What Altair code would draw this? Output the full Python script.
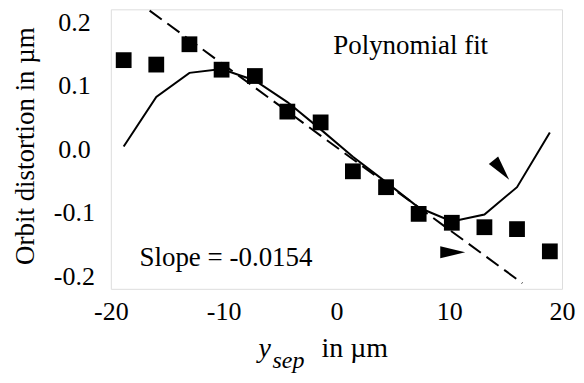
import altair as alt
import pandas as pd

# data
sep_x = [-18.86, -15.97, -13.03, -10.18, -7.23, -4.35, -1.40, 1.46, 4.40, 7.29, 10.23, 13.12, 16.01, 18.92]
measured = [0.140, 0.133, 0.165, 0.125, 0.115, 0.059, 0.042, -0.035, -0.060, -0.102, -0.116, -0.123, -0.126, -0.161]
poly_fit = [0.004, 0.082, 0.120, 0.126, 0.108, 0.074, 0.031, -0.012, -0.052, -0.092, -0.114, -0.103, -0.060, 0.026]
lin_x = [-16.56, 16.48]
lin_y = [0.218, -0.211]
x_ticks = [-20, -10, 0, 10, 20]
y_ticks = [-0.2, -0.1, 0.0, 0.1, 0.2]

FONT = "Liberation Serif"

pts = pd.DataFrame({"x": sep_x, "y": measured})
poly = pd.DataFrame({"x": sep_x, "y": poly_fit})
lin = pd.DataFrame({"x": lin_x, "y": lin_y})

xs = alt.Scale(domain=[-20, 20], nice=False, zero=False)
ys = alt.Scale(domain=[-0.22, 0.22], nice=False, zero=False)

xaxis = alt.Axis(values=x_ticks, domain=False, ticks=False, tickSize=0, grid=False,
                 labelFont=FONT, labelFontSize=26, labelColor="black", labelFlush=False,
                 labelOverlap=False, labelPadding=10, title=None,
                 labelExpr="replace(datum.label, '\u2212', '-')")
yaxis = alt.Axis(values=y_ticks, domain=False, ticks=False, tickSize=0, grid=False,
                 labelFont=FONT, labelFontSize=26, labelColor="black", labelFlush=False,
                 labelOverlap=False, labelPadding=37, labelAlign="center", labelBaseline="middle",
                 format=".1f", title=None,
                 labelExpr="replace(datum.label, '\u2212', '-')")

X = alt.X("x:Q", scale=xs, axis=xaxis)
Y = alt.Y("y:Q", scale=ys, axis=yaxis)

dashed = alt.Chart(lin).mark_line(color="black", strokeWidth=2, strokeDash=[15, 7]).encode(x=X, y=Y)
solid = alt.Chart(poly).mark_line(color="black", strokeWidth=2).encode(x=X, y=Y)
squares = alt.Chart(pts).mark_point(shape="square", filled=True, size=250, color="black", opacity=1).encode(x=X, y=Y)

arrows = pd.DataFrame({"x": [14.62, 10.31], "y": [-0.033, -0.1625], "ang": [51, 0]})
heads = alt.Chart(arrows).mark_point(shape="M1,0L-1,-0.48L-1,0.48Z", filled=True, size=625,
                                     color="black", opacity=1).encode(
    x=alt.X("x:Q", scale=xs), y=alt.Y("y:Q", scale=ys), angle=alt.Angle("ang:Q", scale=None))

notes = pd.DataFrame({"x": [6.58, -9.79], "y": [0.149, -0.184], "t": ["Polynomial fit", "Slope = -0.0154"]})
ann = alt.Chart(notes).mark_text(font=FONT, fontSize=27, color="black", align="center", baseline="alphabetic").encode(
    x=alt.X("x:Q", scale=xs), y=alt.Y("y:Q", scale=ys), text="t:N")

one = pd.DataFrame({"a": [0]})
ytitle = alt.Chart(one).mark_text(font=FONT, fontSize=27, color="black", angle=270, align="center",
                                  baseline="middle").encode(
    x=alt.value(-85), y=alt.value(137), text=alt.value("Orbit distortion in \u00b5m"))
t_y = alt.Chart(one).mark_text(font=FONT, fontSize=28, fontStyle="italic", color="black", align="left",
                               baseline="alphabetic").encode(
    x=alt.value(148), y=alt.value(348), text=alt.value("y"))
t_sep = alt.Chart(one).mark_text(font=FONT, fontSize=24, fontStyle="italic", color="black", align="left",
                                 baseline="alphabetic").encode(
    x=alt.value(162), y=alt.value(359), text=alt.value("sep"))
t_in = alt.Chart(one).mark_text(font=FONT, fontSize=28, color="black", align="left",
                                baseline="alphabetic").encode(
    x=alt.value(211), y=alt.value(348), text=alt.value("in  \u00b5m"))

chart = alt.layer(dashed, solid, squares, heads, ann, ytitle, t_y, t_sep, t_in).properties(
    width=452, height=280,
    autosize=alt.AutoSizeParams(type="none"),
    padding={"left": 103, "top": 1, "right": 14, "bottom": 88},
).configure_view(stroke=None).configure(background="white", font=FONT)

chart.save("out.html", embed_options={"renderer": "svg", "actions": False})
